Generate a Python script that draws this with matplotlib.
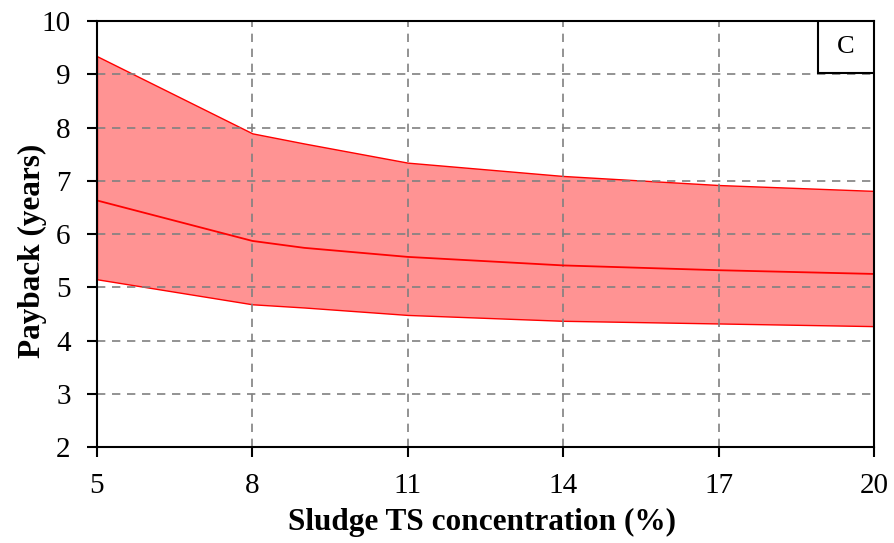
import matplotlib
matplotlib.use('Agg')
import matplotlib.pyplot as plt
from matplotlib.patches import Rectangle

# Data
ts_conc = [5, 8, 9, 11, 14, 17, 20]
payback_upper = [9.34, 7.89, 7.70, 7.34, 7.09, 6.92, 6.81]
payback_mid = [6.63, 5.87, 5.74, 5.57, 5.41, 5.32, 5.25]
payback_lower = [5.15, 4.68, 4.62, 4.48, 4.37, 4.32, 4.27]
x_ticks = [5, 8, 11, 14, 17, 20]
y_ticks = [2, 3, 4, 5, 6, 7, 8, 9, 10]

plt.rcParams['font.family'] = ['Liberation Serif', 'DejaVu Serif']

fig = plt.figure(figsize=(8.94, 5.43), dpi=100)
ax = fig.add_axes([0.1085, 0.1768, 0.8691, 0.7845])

ax.fill_between(ts_conc, payback_lower, payback_upper, facecolor='#ff9393',
                edgecolor='red', linewidth=1.0, zorder=2)
ax.plot(ts_conc, payback_mid, color='red', linewidth=1.3, zorder=3)

ax.set_xlim(5, 20)
ax.set_ylim(2, 10)
ax.set_xticks(x_ticks)
ax.set_yticks(y_ticks)
ax.tick_params(labelsize=21, direction='out', length=7, width=1.5, pad=12)
ax.grid(True, linestyle=(0, (5, 4)), color='#808080', linewidth=1.2, zorder=1)
ax.set_axisbelow(False)
for s in ax.spines.values():
    s.set_linewidth(1.5)
    s.set_zorder(4)

ax.set_xlabel('Sludge TS concentration (%)', fontsize=22.5, fontweight='bold')
ax.set_ylabel('Payback (years)', fontsize=22.5, fontweight='bold')
ax.xaxis.set_label_coords(0.495, -0.142)
ax.yaxis.set_label_coords(-0.064, 0.46)

# panel label box
ax.add_patch(Rectangle((0.928, 0.878), 0.072, 0.122, transform=ax.transAxes,
                       facecolor='white', edgecolor='black', linewidth=1.5, zorder=5))
ax.text(0.964, 0.939, 'C', transform=ax.transAxes, ha='center', va='center',
        fontsize=19, zorder=6)

fig.savefig('out.png', dpi=100)
